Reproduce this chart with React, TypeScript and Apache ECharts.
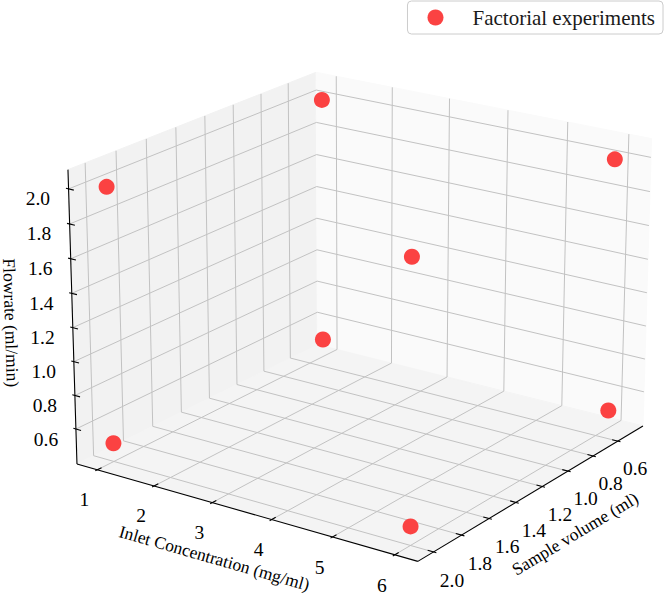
import React, { useEffect, useRef } from "react";
import * as echarts from "echarts";

// ---------------- data (2^3 factorial design) ----------------
const inletConcentration = [1, 6, 1, 6, 1, 6, 1, 6];
const sampleVolume = [0.5, 0.5, 2.0, 2.0, 0.5, 0.5, 2.0, 2.0];
const flowrate = [0.5, 0.5, 0.5, 0.5, 2.0, 2.0, 2.0, 2.0];

const xTicks = [1, 2, 3, 4, 5, 6];
const yTicks = [0.6, 0.8, 1.0, 1.2, 1.4, 1.6, 1.8, 2.0];
const zTicks = [0.6, 0.8, 1.0, 1.2, 1.4, 1.6, 1.8, 2.0];

const xTitle = "Inlet Concentration (mg/ml)";
const yTitle = "Sample volume (ml)";
const zTitle = "Flowrate (ml/min)";
const seriesName = "Factorial experiments";

// ---------------- view / style ----------------
const W = 666;
const H = 595;
const ELEV = 20;
const AZIM = -55;
const DIST = 10;
const FOCAL = 1;
const SCALE = 3465;
const CX = 363.8;
const CY = 301.5;
const LABEL_F = 0.64;
const LABEL_DY = 8;
const TITLE_F = [1.35, 1.4, 1.3];

const FONT = "'Liberation Serif', 'Times New Roman', serif";
const TICK_FONT = 19.5;
const TITLE_FONT = 17.5;
const LEGEND_FONT = 21;
const POINT_COLOR = "#fb4242";
const PANE_X = "#f2f2f2";
const PANE_Y = "#fafafa";
const PANE_Z = "#f4f4f4";
const GRID_COLOR = "#c2c2c2";

// ---------------- 3D projection (matplotlib-like) ----------------
function limits(vals: number[], invert: boolean): [number, number] {
  const lo = Math.min(...vals);
  const hi = Math.max(...vals);
  const m = (hi - lo) * 0.05;
  return invert ? [hi + m, lo - m] : [lo - m, hi + m];
}
const lims: [number, number][] = [
  limits(inletConcentration, false),
  limits(sampleVolume, true),
  limits(flowrate, false),
];
const aspectRaw = [4, 4, 3];
const aNorm = Math.hypot(...aspectRaw);
const box = aspectRaw.map((a) => (a * 1.8294640721620434) / aNorm);
const R = box.map((b) => b / 2);
const eR = (ELEV * Math.PI) / 180;
const aR = (AZIM * Math.PI) / 180;
const ps = [Math.cos(eR) * Math.cos(aR), Math.cos(eR) * Math.sin(aR), Math.sin(eR)];
const eye = R.map((r, i) => r + DIST * ps[i] * FOCAL);
const dot = (p: number[], q: number[]) => p[0] * q[0] + p[1] * q[1] + p[2] * q[2];
const cross = (p: number[], q: number[]) => [
  p[1] * q[2] - p[2] * q[1],
  p[2] * q[0] - p[0] * q[2],
  p[0] * q[1] - p[1] * q[0],
];
const wAx = ps;
const uTmp = cross([0, 0, 1], wAx);
const uLen = Math.hypot(uTmp[0], uTmp[1], uTmp[2]);
const uAx = uTmp.map((c) => c / uLen);
const vAx = cross(wAx, uAx);

function toWorldAxis(i: number, v: number): number {
  return ((v - lims[i][0]) / (lims[i][1] - lims[i][0])) * box[i];
}
function projectWorld(p: number[]): number[] {
  const d = [p[0] - eye[0], p[1] - eye[1], p[2] - eye[2]];
  const zv = dot(wAx, d);
  return [(FOCAL * dot(uAx, d)) / -zv, (FOCAL * dot(vAx, d)) / -zv];
}

const paneLo = box.map((b) => -b / 48);
const paneHi = box.map((b) => b + b / 48);
const deltas = box.map((b) => b / 12);
const back = [0, 1, 2].map((i) => (eye[i] > R[i] ? paneLo[i] : paneHi[i]));
const front = [0, 1, 2].map((i) => (eye[i] > R[i] ? paneHi[i] : paneLo[i]));

function renderBox(_params: any, api: any) {
  const px = (p: number[]) => api.coord(projectWorld(p));
  const children: any[] = [];
  const poly = (pts: number[][], fill: string) =>
    children.push({
      type: "polygon",
      shape: { points: pts.map(px) },
      style: { fill, stroke: fill, lineWidth: 1 },
    });
  const line = (p1: number[], p2: number[], stroke: string, lw: number) => {
    const a = px(p1);
    const b = px(p2);
    children.push({
      type: "line",
      shape: { x1: a[0], y1: a[1], x2: b[0], y2: b[1] },
      style: { stroke, lineWidth: lw },
    });
  };
  const lo = paneLo;
  const hi = paneHi;
  const xB = back[0];
  const yB = back[1];
  const zB = back[2];
  // panes
  poly([[xB, lo[1], lo[2]], [xB, hi[1], lo[2]], [xB, hi[1], hi[2]], [xB, lo[1], hi[2]]], PANE_X);
  poly([[lo[0], yB, lo[2]], [hi[0], yB, lo[2]], [hi[0], yB, hi[2]], [lo[0], yB, hi[2]]], PANE_Y);
  poly([[lo[0], lo[1], zB], [hi[0], lo[1], zB], [hi[0], hi[1], zB], [lo[0], hi[1], zB]], PANE_Z);
  // grid lines
  xTicks.forEach((t) => {
    const w = toWorldAxis(0, t);
    line([w, lo[1], zB], [w, hi[1], zB], GRID_COLOR, 1);
    line([w, yB, lo[2]], [w, yB, hi[2]], GRID_COLOR, 1);
  });
  yTicks.forEach((t) => {
    const w = toWorldAxis(1, t);
    line([lo[0], w, zB], [hi[0], w, zB], GRID_COLOR, 1);
    line([xB, w, lo[2]], [xB, w, hi[2]], GRID_COLOR, 1);
  });
  zTicks.forEach((t) => {
    const w = toWorldAxis(2, t);
    line([xB, lo[1], w], [xB, hi[1], w], GRID_COLOR, 1);
    line([lo[0], yB, w], [hi[0], yB, w], GRID_COLOR, 1);
  });
  // axes
  const axes = [
    { i: 0, base: [0, front[1], zB], td: 1, ticks: xTicks, fmt: (v: number) => String(v), title: xTitle },
    { i: 1, base: [front[0], 0, zB], td: 0, ticks: yTicks, fmt: (v: number) => v.toFixed(1), title: yTitle },
    { i: 2, base: [xB, front[1], 0], td: 0, ticks: zTicks, fmt: (v: number) => v.toFixed(1), title: zTitle },
  ];
  axes.forEach((ax) => {
    const p1 = ax.base.slice();
    p1[ax.i] = lo[ax.i];
    const p2 = ax.base.slice();
    p2[ax.i] = hi[ax.i];
    line(p1, p2, "#000", 1.1);
    const sgn = ax.base[ax.td] < R[ax.td] ? -1 : 1;
    ax.ticks.forEach((t) => {
      const pos = ax.base.slice();
      pos[ax.i] = toWorldAxis(ax.i, t);
      const a = pos.slice();
      a[ax.td] += sgn * 0.1 * deltas[ax.td];
      const b = pos.slice();
      b[ax.td] -= sgn * 0.2 * deltas[ax.td];
      line(a, b, "#000", 1.1);
      const lp = pos.slice();
      for (let j = 0; j < 3; j++) {
        if (j === ax.i) continue;
        lp[j] += (ax.base[j] < R[j] ? -1 : 1) * LABEL_F * deltas[j];
      }
      const c = px(lp);
      children.push({
        type: "text",
        x: c[0],
        y: c[1] + LABEL_DY,
        style: {
          text: ax.fmt(t),
          fill: "#000",
          fontSize: TICK_FONT,
          fontFamily: FONT,
          align: "center",
          verticalAlign: "middle",
        },
      });
    });
    // title
    const s1 = px(p1);
    const s2 = px(p2);
    let ang = Math.atan2(-(s2[1] - s1[1]), s2[0] - s1[0]);
    if (ang > Math.PI / 2) ang -= Math.PI;
    if (ang <= -Math.PI / 2) ang += Math.PI;
    const mp = ax.base.slice();
    mp[ax.i] = (lo[ax.i] + hi[ax.i]) / 2;
    for (let j = 0; j < 3; j++) {
      if (j === ax.i) continue;
      mp[j] += (ax.base[j] < R[j] ? -1 : 1) * TITLE_F[ax.i] * deltas[j];
    }
    const tc = px(mp);
    children.push({
      type: "text",
      x: tc[0],
      y: tc[1],
      rotation: ang,
      style: {
        text: ax.title,
        fill: "#000",
        fontSize: TITLE_FONT,
        fontFamily: FONT,
        align: "center",
        verticalAlign: "middle",
      },
    });
  });
  return { type: "group", children };
}

function renderPoint(_params: any, api: any) {
  const w = [
    toWorldAxis(0, api.value(0)),
    toWorldAxis(1, api.value(1)),
    toWorldAxis(2, api.value(2)),
  ];
  const c = api.coord(projectWorld(w));
  return {
    type: "circle",
    shape: { cx: c[0], cy: c[1], r: 8 },
    style: { fill: api.visual("color") },
  };
}

const points = inletConcentration.map((x, i) => [x, sampleVolume[i], flowrate[i]]);

export default function App() {
  const ref = useRef<HTMLDivElement>(null);
  useEffect(() => {
    if (!ref.current) return;
    const chart = echarts.init(ref.current, undefined, { renderer: "svg" });
    chart.setOption({
      animation: false,
      backgroundColor: "#ffffff",
      grid: { left: 0, right: 0, top: 0, bottom: 0 },
      xAxis: { type: "value", min: -CX / SCALE, max: (W - CX) / SCALE, show: false },
      yAxis: { type: "value", min: -(H - CY) / SCALE, max: CY / SCALE, show: false },
      legend: {
        data: [{ name: seriesName, icon: "circle" }],
        right: 3,
        top: 1,
        itemWidth: 16,
        itemHeight: 16,
        padding: [6, 8, 6, 20],
        borderColor: "#cccccc",
        borderWidth: 1,
        borderRadius: 4,
        backgroundColor: "rgba(255,255,255,0.8)",
        selectedMode: false,
        formatter: (n: string) => `{t|${n}}`,
        textStyle: {
          fontFamily: FONT,
          fontSize: LEGEND_FONT,
          color: "#1a1a1a",
          lineHeight: 21,
          rich: {
            t: {
              fontFamily: FONT,
              fontSize: LEGEND_FONT,
              color: "#1a1a1a",
              lineHeight: 21,
              padding: [0, 0, 0, 24],
            },
          },
        },
      },
      series: [
        {
          type: "custom",
          name: "axes3d",
          coordinateSystem: "cartesian2d",
          silent: true,
          data: [[0, 0]],
          renderItem: renderBox,
          z: 1,
        },
        {
          type: "custom",
          name: seriesName,
          coordinateSystem: "cartesian2d",
          dimensions: ["inletConcentration", "sampleVolume", "flowrate"],
          data: points,
          itemStyle: { color: POINT_COLOR },
          renderItem: renderPoint,
          z: 2,
        },
      ],
    });
    return () => chart.dispose();
  }, []);
  return (
    <div
      ref={ref}
      style={{ position: "fixed", left: 0, top: 0, width: W, height: H }}
    />
  );
}
